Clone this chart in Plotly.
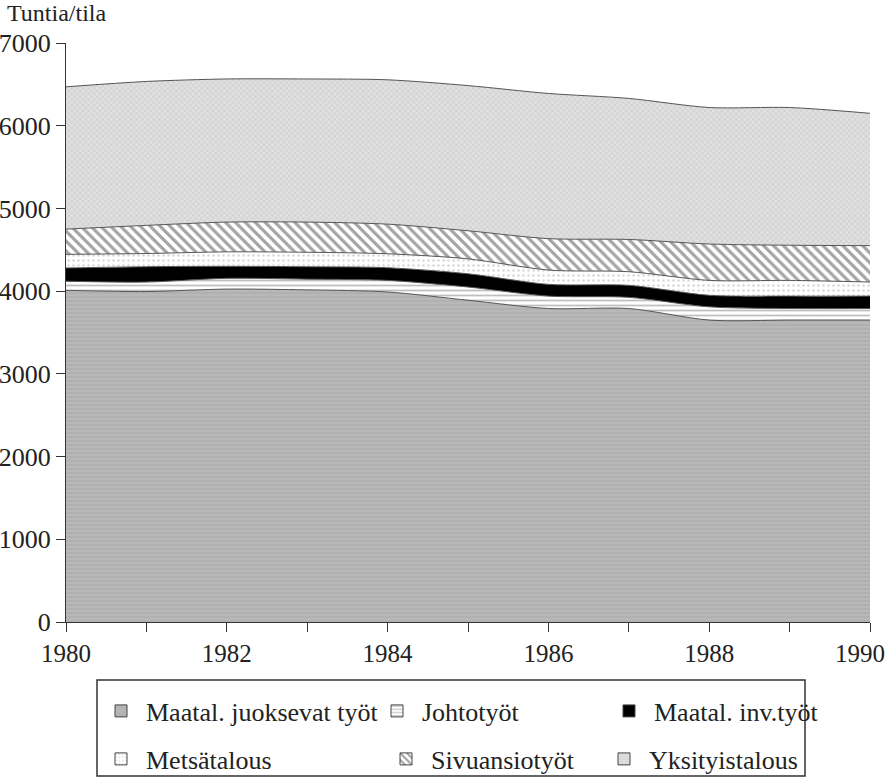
import plotly.graph_objects as go

years = [1980, 1981, 1982, 1983, 1984, 1985, 1986, 1987, 1988, 1989, 1990]

maatal_juoksevat = [4010, 3995, 4025, 4015, 3990, 3890, 3790, 3790, 3650, 3650, 3650]
johtotyot = [110, 115, 130, 130, 140, 160, 150, 135, 160, 140, 140]
maatal_inv = [160, 185, 145, 150, 153, 160, 142, 145, 140, 150, 150]
metsatalous = [165, 160, 175, 175, 169, 180, 173, 165, 180, 190, 170]
sivuansiotyot = [305, 340, 360, 365, 358, 340, 380, 390, 440, 425, 440]
yksityistalous = [1720, 1740, 1730, 1730, 1745, 1755, 1755, 1705, 1650, 1665, 1600]

names = ["Maatal. juoksevat työt", "Johtotyöt", "Maatal. inv.työt",
         "Metsätalous", "Sivuansiotyöt", "Yksityistalous"]
series = [maatal_juoksevat, johtotyot, maatal_inv, metsatalous, sivuansiotyot, yksityistalous]
ytick_vals = [0, 1000, 2000, 3000, 4000, 5000, 6000, 7000]
last_year_label = "1990"

styles = [
    dict(fillcolor="#b2b2b2", pattern=dict(shape="-", fgcolor="#a0a0a0", bgcolor="#b8b8b8", size=4, solidity=0.3)),
    dict(fillcolor="#ffffff", pattern=dict(shape="-", fgcolor="#808080", bgcolor="#ffffff", size=5, solidity=0.35)),
    dict(fillcolor="#000000", pattern=dict(shape="", fgcolor="#000000", bgcolor="#000000")),
    dict(fillcolor="#ffffff", pattern=dict(shape=".", fgcolor="#b0b0b0", bgcolor="#ffffff", size=5, solidity=0.2)),
    dict(fillcolor="#ffffff", pattern=dict(shape="\\", fgcolor="#4a4a4a", bgcolor="#ffffff", size=7, solidity=0.45)),
    dict(fillcolor="#d6d6d6", pattern=dict(shape="x", fgcolor="#b0b0b0", bgcolor="#e0e0e0", size=4, solidity=0.3)),
]

SERIF = "Times New Roman, Liberation Serif, DejaVu Serif, serif"

# legend placement (pixel anchors converted to paper coords)
PL, PR, PT, PB = 66, 870, 43, 622
def px_x(px):
    return (px - PL) / (PR - PL)
def px_y(py):
    return (PB - py) / (PB - PT)

legend_px = [(96, 711), (372, 711), (604, 711), (96, 759), (381, 759), (599, 759)]
legend_ids = ["legend", "legend2", "legend3", "legend4", "legend5", "legend6"]

fig = go.Figure()
for name, vals, st in zip(names, series, styles):
    kw = {}
    if st["pattern"]["shape"]:
        kw["fillpattern"] = st["pattern"]
    fig.add_trace(go.Scatter(
        x=years, y=vals, name=name, mode="lines", stackgroup="one",
        line=dict(color="#555555", width=1, shape="spline", smoothing=0.8),
        fillcolor=st["fillcolor"], showlegend=False, **kw,
    ))

# legend-only entries with rectangular patterned swatches
for name, st, lid in zip(names, styles, legend_ids):
    p = st["pattern"]
    marker = dict(color=st["fillcolor"], line=dict(color="#444444", width=1))
    if p["shape"]:
        marker["pattern"] = dict(shape=p["shape"], fgcolor=p["fgcolor"], bgcolor=p["bgcolor"],
                                 size=max(3, p.get("size", 4) - 1), solidity=p.get("solidity", 0.3))
    fig.add_trace(go.Bar(x=[None], y=[None], name=name, marker=marker,
                         showlegend=True, legend=lid))

legend_common = dict(
    orientation="h", xanchor="left", yanchor="middle",
    bgcolor="rgba(0,0,0,0)", borderwidth=0,
    font=dict(family=SERIF, size=26, color="#222222"),
    itemwidth=40,
)
legends = {}
for lid, (lx, ly) in zip(legend_ids, legend_px):
    legends[lid] = dict(legend_common, x=px_x(lx), y=px_y(ly))

fig.update_layout(
    width=888, height=780,
    margin=dict(l=PL, r=888 - PR, t=PT, b=780 - PB, autoexpand=False),
    paper_bgcolor="white", plot_bgcolor="white",
    font=dict(family=SERIF, color="#222222", size=22),
    showlegend=True,
    xaxis=dict(
        range=[1980, 1990], tickmode="array", tickvals=years,
        ticktext=[str(y) if (y % 2 == 0 and y != years[-1]) else "" for y in years],
        ticks="outside", ticklen=9, tickcolor="#333333",
        showline=True, linecolor="#333333", linewidth=1,
        showgrid=False, zeroline=False,
        tickfont=dict(size=25, family=SERIF),
    ),
    yaxis=dict(
        range=[0, 7000], tickmode="array", tickvals=ytick_vals,
        ticks="outside", ticklen=9, tickcolor="#333333",
        showline=True, linecolor="#333333", linewidth=1,
        showgrid=False, zeroline=False,
        tickfont=dict(size=26, family=SERIF),
    ),
    annotations=[
        dict(text="Tuntia/tila", xref="paper", yref="paper", x=px_x(5), y=px_y(28),
             xanchor="left", yanchor="bottom", showarrow=False,
             font=dict(size=24, family=SERIF)),
        dict(text=last_year_label, xref="paper", yref="paper", x=px_x(887), y=px_y(638),
             xanchor="right", yanchor="top", showarrow=False,
             font=dict(size=25, family=SERIF, color="#222222")),
    ],
    shapes=[dict(type="rect", xref="paper", yref="paper",
                 x0=px_x(97), x1=px_x(805), y0=px_y(680), y1=px_y(776),
                 line=dict(color="#333333", width=1.5), fillcolor="rgba(0,0,0,0)")],
    **legends,
)

fig.write_html("out.html", config={"displayModeBar": False},
               post_script="document.body.style.margin='0';document.body.style.padding='0';")
